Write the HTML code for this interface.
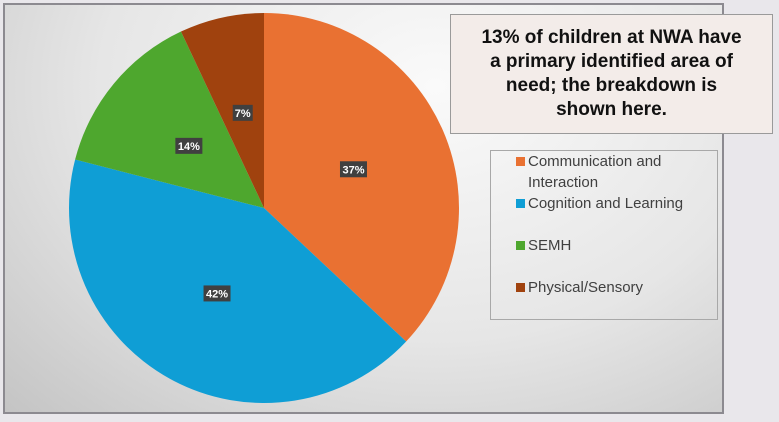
<!DOCTYPE html>
<html><head><meta charset="utf-8"><style>
body{margin:0;width:779px;height:422px;background:#e9e7eb;overflow:hidden;font-family:"Liberation Sans",sans-serif;position:relative}
#frame{position:absolute;left:3px;top:3px;width:717px;height:407px;border:2px solid #8c8a90;background:radial-gradient(ellipse at 60% 20%,#fafafa 0%,#e6e6e6 55%,#c4c4c4 100%)}
#callout{position:absolute;left:450px;top:14px;width:321px;height:118px;border:1px solid #9a9a9a;background:#f3ece9;font-weight:bold;font-size:19px;line-height:24px;text-align:center;color:#111;display:flex;align-items:center;justify-content:center}
#legend{position:absolute;left:490px;top:150px;width:226px;height:168px;border:1px solid #a8a8a8}
.le{position:absolute;left:37px;font-size:15px;color:#404040;line-height:21px}
.sw{position:absolute;left:-12px;top:6px;width:9px;height:9px}
</style></head><body>
<div id="frame"></div>
<svg id="pie" width="779" height="422" style="position:absolute;left:0;top:0"></svg>
<div id="callout">13% of children at NWA have<br>a primary identified area of<br>need; the breakdown is<br>shown here.</div>
<div id="legend">
<div class="le" style="top:0px"><span class="sw" style="background:#e97132"></span>Communication and<br>Interaction</div>
<div class="le" style="top:42px"><span class="sw" style="background:#0f9ed5"></span>Cognition and Learning</div>
<div class="le" style="top:84px"><span class="sw" style="background:#4ea72e"></span>SEMH</div>
<div class="le" style="top:126px"><span class="sw" style="background:#a0420e"></span>Physical/Sensory</div>
</div>
<script>
const categories=["Communication and Interaction","Cognition and Learning","SEMH","Physical/Sensory"];
const values=[37,42,14,7];
const labels=["37%","42%","14%","7%"];
const colors=["#e97132","#0f9ed5","#4ea72e","#a0420e"];
const svg=document.getElementById('pie');
const NS='http://www.w3.org/2000/svg';
const cx=264,cy=208,r=195;
const total=values.reduce((a,b)=>a+b,0);
let a0=0;
values.forEach((v,i)=>{
  const a1=a0+v/total*2*Math.PI;
  const p=(a)=>[cx+r*Math.sin(a),cy-r*Math.cos(a)];
  const [x0,y0]=p(a0),[x1,y1]=p(a1);
  const path=document.createElementNS(NS,'path');
  path.setAttribute('d',`M${cx},${cy}L${x0},${y0}A${r},${r} 0 ${a1-a0>Math.PI?1:0} 1 ${x1},${y1}Z`);
  path.setAttribute('fill',colors[i]);
  
  
  svg.appendChild(path);
  const m=(a0+a1)/2, lr=r*0.5;
  const lx=cx+lr*Math.sin(m), ly=cy-lr*Math.cos(m);
  const w=labels[i].length*7+6;
  const rect=document.createElementNS(NS,'rect');
  rect.setAttribute('x',lx-w/2);rect.setAttribute('y',ly-8);
  rect.setAttribute('width',w);rect.setAttribute('height',16);
  rect.setAttribute('fill','#404040');
  
  
  svg.appendChild(rect);
  const t=document.createElementNS(NS,'text');
  t.setAttribute('x',lx);t.setAttribute('y',ly+4);
  t.setAttribute('text-anchor','middle');t.setAttribute('fill','#fff');
  t.setAttribute('font-size','11');t.setAttribute('font-weight','bold');
  t.setAttribute('font-family','Liberation Sans, sans-serif');
  t.textContent=labels[i];
  
  
  svg.appendChild(t);
  a0=a1;
});
</script>
</body></html>
